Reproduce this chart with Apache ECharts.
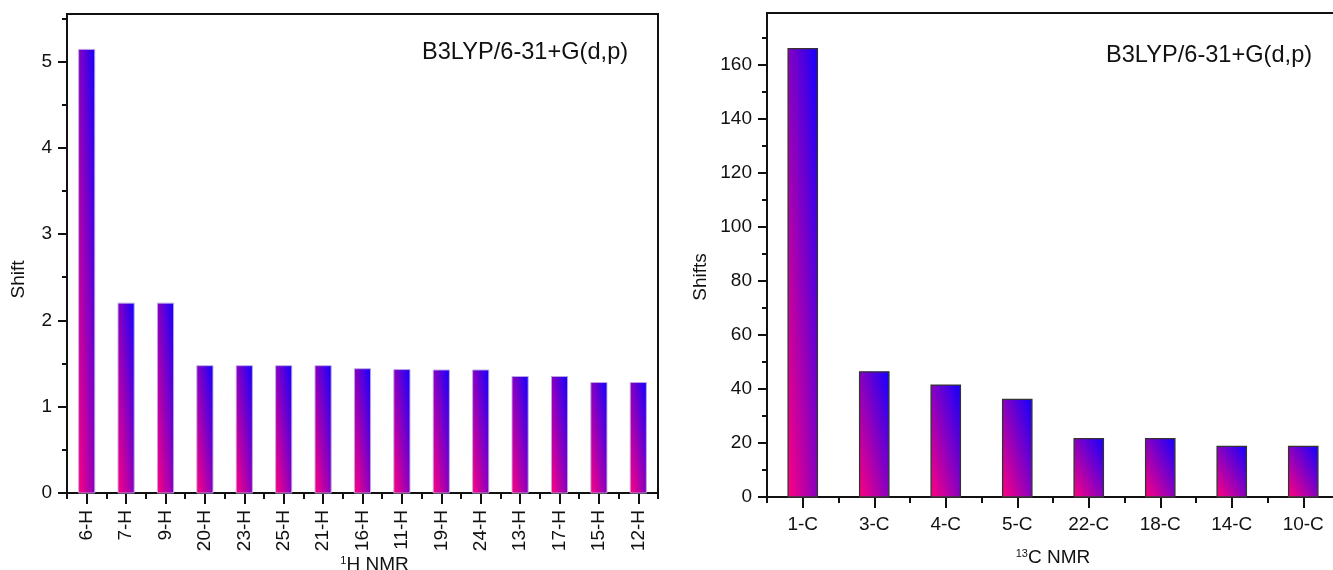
<!DOCTYPE html>
<html>
<head>
<meta charset="utf-8">
<script src="https://cdn.jsdelivr.net/npm/echarts@6/dist/echarts.min.js"></script>
<style>
  html, body { margin: 0; background: #fff; }
  #chart { width: 1333px; height: 570px; }
</style>
</head>
<body>
<div id="chart"></div>
<script>
// 1H NMR (left panel)
const hLabels = ['6-H', '7-H', '9-H', '20-H', '23-H', '25-H', '21-H', '16-H', '11-H', '19-H', '24-H', '13-H', '17-H', '15-H', '12-H']
const hShift = [5.14, 2.2, 2.2, 1.475, 1.475, 1.475, 1.475, 1.44, 1.43, 1.425, 1.425, 1.35, 1.35, 1.28, 1.28]
const hTicks = [0, 1, 2, 3, 4, 5]
const hMinorTicks = [0.5, 1.5, 2.5, 3.5, 4.5, 5.5]

// 13C NMR (right panel)
const cLabels = ['1-C', '3-C', '4-C', '5-C', '22-C', '18-C', '14-C', '10-C']
const cShift = [165.8, 46.3, 41.4, 36.1, 21.6, 21.6, 18.7, 18.7]
const cTicks = [0, 20, 40, 60, 80, 100, 120, 140, 160]
const cMinorTicks = [10, 30, 50, 70, 90, 110, 130, 150, 170]

const FONT = 'Liberation Sans, Arial, Helvetica, sans-serif'
const INK = '#111'
const axisLine = { show: true, lineStyle: { color: INK, width: 2 } }
const gradStops = [
  { offset: 0, color: '#ff0080' },
  { offset: 1, color: '#1400ff' }
]

/** bar with a gradient running corner to corner (bottom-left pink, top-right blue) */
function makeRenderBar(stroke, lineWidth) {
  return function (params, api) {
    const top = api.coord([api.value(0), api.value(1)])
    const base = api.coord([api.value(0), 0])
    const w = api.size([1, 0])[0] * 0.41
    const x = top[0] - w / 2
    const h = base[1] - top[1]
    const k = (2 * w * h) / (w * w + h * h)
    const fill = new echarts.graphic.LinearGradient(x, base[1], x + k * h, base[1] - k * w, gradStops, true)
    return {
      type: 'rect',
      shape: { x: x, y: top[1], width: w, height: h },
      style: { fill: fill, stroke: stroke, lineWidth: lineWidth }
    }
  }
}

function valueAxes(gridIndex, max, ticks, minor, name, nameGap, namePad) {
  return [
    {
      type: 'value',
      gridIndex: gridIndex,
      position: 'left',
      min: 0,
      max: max,
      name: name,
      nameLocation: 'middle',
      nameGap: nameGap,
      nameMoveOverlap: false,
      nameTextStyle: { fontFamily: FONT, fontSize: 19, color: INK, padding: namePad },
      axisLine: axisLine,
      axisTick: { show: true, length: 9, customValues: ticks, lineStyle: { color: INK, width: 2 } },
      axisLabel: { customValues: ticks, margin: 15, fontFamily: FONT, fontSize: 19, color: INK },
      splitLine: { show: false }
    },
    {
      type: 'value',
      gridIndex: gridIndex,
      position: 'left',
      min: 0,
      max: max,
      axisLine: { show: false },
      axisTick: { show: true, length: 5, customValues: minor, lineStyle: { color: INK, width: 2 } },
      axisLabel: { show: false },
      splitLine: { show: false }
    }
  ]
}

function categoryAxes(gridIndex, labels, rotate, margin, name, nameGap, namePad) {
  return [
    {
      type: 'category',
      gridIndex: gridIndex,
      position: 'bottom',
      data: labels,
      name: name,
      nameLocation: 'middle',
      nameGap: nameGap,
      nameMoveOverlap: false,
      nameTextStyle: {
        fontFamily: FONT,
        fontSize: 19,
        color: INK,
        padding: namePad,
        rich: { sup: { fontFamily: FONT, fontSize: 11, color: INK, verticalAlign: 'top', lineHeight: 14 } }
      },
      axisLine: axisLine,
      axisTick: { show: true, alignWithLabel: true, length: 11, lineStyle: { color: INK, width: 2 } },
      axisLabel: { interval: 0, rotate: rotate, margin: margin, fontFamily: FONT, fontSize: 19, color: INK }
    },
    {
      type: 'category',
      gridIndex: gridIndex,
      position: 'bottom',
      data: labels,
      axisLine: { show: false },
      axisTick: { show: true, length: 6, lineStyle: { color: INK, width: 2 } },
      axisLabel: { show: false }
    }
  ]
}

const option = {
  animation: false,
  backgroundColor: '#fff',
  grid: [
    { left: 67, top: 14, width: 591, height: 479, outerBoundsMode: 'none', show: true, borderColor: INK, borderWidth: 2 },
    { left: 767, top: 13, width: 572, height: 484, outerBoundsMode: 'none', show: true, borderColor: INK, borderWidth: 2 }
  ],
  xAxis: [
    ...categoryAxes(0, hLabels, 90, 17, '{sup|1}H NMR', 62, [0, 0, 0, 24]),
    ...categoryAxes(1, cLabels, 0, 18, '{sup|13}C NMR', 51, [0, 0, 0, 0])
  ],
  yAxis: [
    ...valueAxes(0, 5.55, hTicks, hMinorTicks, 'Shift', 39, [0, 52, 0, 0]),
    ...valueAxes(1, 179, cTicks, cMinorTicks, 'Shifts', 57, [0, 44, 0, 0])
  ],
  series: [
    {
      type: 'custom',
      xAxisIndex: 0,
      yAxisIndex: 0,
      renderItem: makeRenderBar('rgba(190,170,225,0.9)', 1),
      data: hShift.map((v, i) => [i, v])
    },
    {
      type: 'custom',
      xAxisIndex: 2,
      yAxisIndex: 2,
      renderItem: makeRenderBar('#333', 1.3),
      data: cShift.map((v, i) => [i, v])
    }
  ],
  graphic: [
    { type: 'text', left: 422, top: 40, style: { text: 'B3LYP/6-31+G(d,p)', fontFamily: FONT, fontSize: 23.6, fill: INK } },
    { type: 'text', left: 1106, top: 43, style: { text: 'B3LYP/6-31+G(d,p)', fontFamily: FONT, fontSize: 23.6, fill: INK } }
  ]
}

const myChart = echarts.init(document.getElementById('chart'))
myChart.setOption(option)
</script>
</body>
</html>
